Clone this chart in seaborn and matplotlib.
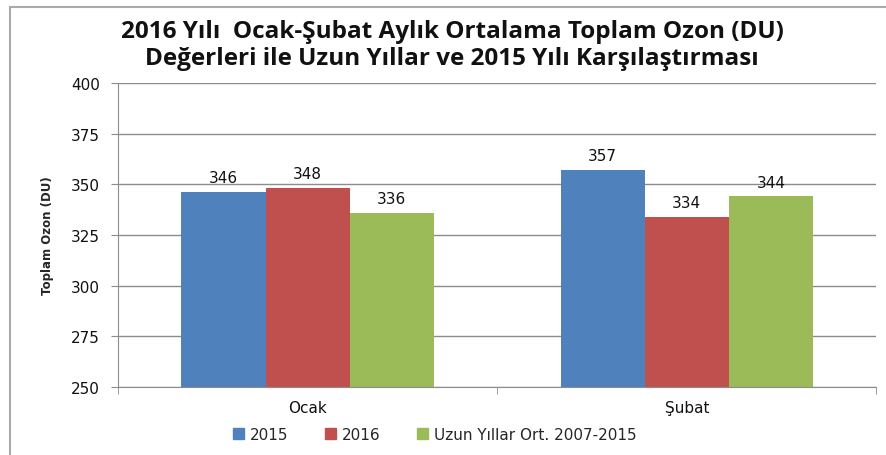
import pandas as pd
import seaborn as sns
import matplotlib.pyplot as plt
from matplotlib.patches import Rectangle

months = ['Ocak', 'Şubat']
series = ['2015', '2016', 'Uzun Yıllar Ort. 2007-2015']
vals_2015 = [346, 357]
vals_2016 = [348, 334]
vals_uzun = [336, 344]
colors = ['#4F81BD', '#C0504D', '#9BBB59']

df = pd.DataFrame({
    'Ay': months * 3,
    'Seri': [series[0]] * 2 + [series[1]] * 2 + [series[2]] * 2,
    'Deger': vals_2015 + vals_2016 + vals_uzun,
})

sns.set_style('white')
plt.rcParams['font.family'] = ['DejaVu Sans']

fig = plt.figure(figsize=(8.87, 4.56), dpi=100)
ax = fig.add_axes([0.133, 0.149, 0.855, 0.667])

sns.barplot(data=df, x='Ay', y='Deger', hue='Seri', palette=colors,
            width=0.665, saturation=1, linewidth=0, ax=ax, legend=False)

ax.set_ylim(250, 400)
ax.set_xlim(-0.5, 1.5)
ax.set_yticks(range(250, 401, 25))
ax.yaxis.grid(True, color='#8C8C8C', linewidth=1)
ax.set_axisbelow(True)
for side in ['top', 'right']:
    ax.spines[side].set_visible(False)
for side in ['left', 'bottom']:
    ax.spines[side].set_color('#8C8C8C')
ax.tick_params(axis='y', length=5, color='#8C8C8C', labelsize=11, pad=8, left=True,
               labelcolor='#111111')
ax.set_xticks([0, 1])
ax.set_xticklabels(months, fontsize=11, color='#111111')
ax.tick_params(axis='x', length=0, pad=9)
ax.set_xticks([-0.5, 0.5, 1.5], minor=True)
ax.tick_params(axis='x', which='minor', length=5, color='#8C8C8C', bottom=True)
ax.set_xlabel('')
ax.set_ylabel('Toplam Ozon (DU)', fontsize=8.5, fontweight='bold', labelpad=12)

for c in ax.containers:
    ax.bar_label(c, fmt='%d', padding=5, fontsize=11, color='#111111')

handles = [Rectangle((0, 0), 1, 1, color=col) for col in colors]
fig.legend(handles, series, loc='center', bbox_to_anchor=(0.49, 0.045), ncol=3,
           frameon=False, fontsize=11, handlelength=0.7, handleheight=0.7,
           columnspacing=2.4, handletextpad=0.4)

fig.text(0.51, 0.93, '2016 Yılı  Ocak-Şubat Aylık Ortalama Toplam Ozon (DU)',
         ha='center', va='center', fontsize=17.5, fontweight='bold', family='Open Sans',
         color='#111111')
fig.text(0.51, 0.87, 'Değerleri ile Uzun Yıllar ve 2015 Yılı Karşılaştırması',
         ha='center', va='center', fontsize=17.5, fontweight='bold', family='Open Sans',
         color='#111111')

fig.patches.append(Rectangle((0.011, -0.05), 1.1, 1.032, transform=fig.transFigure,
                             fill=False, edgecolor='#AAAAAA', linewidth=1.5))

fig.savefig('out.png', dpi=100)
